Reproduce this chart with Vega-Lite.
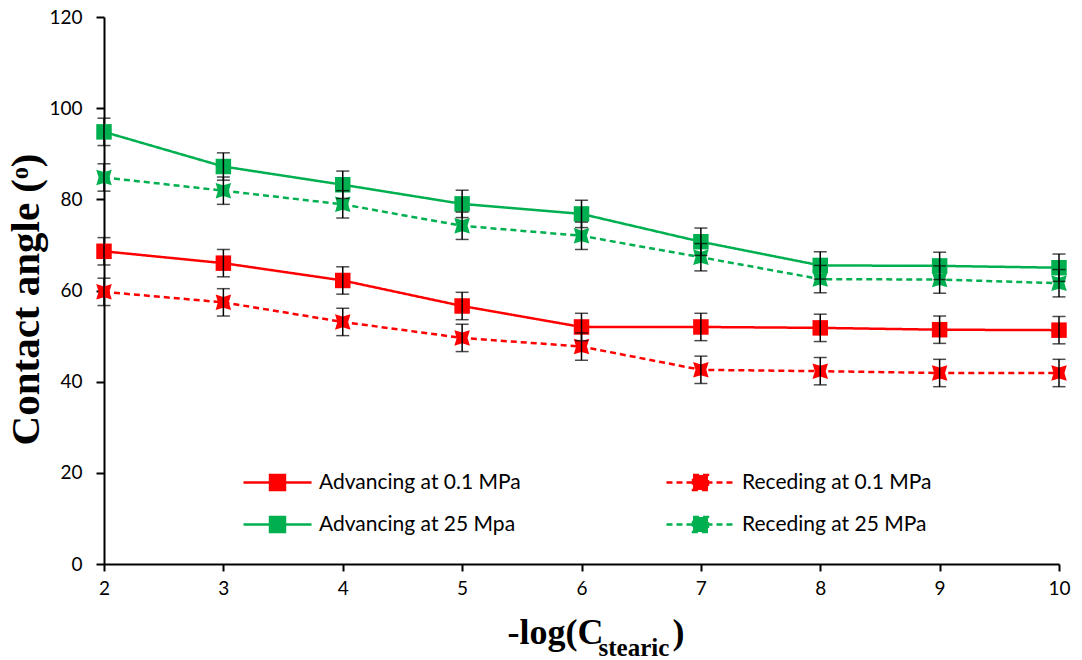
{
  "$schema": "https://vega.github.io/schema/vega-lite/v6.json",
  "autosize": {"type": "none"},
  "padding": {"left": 104, "top": 17, "right": 23, "bottom": 96},
  "width": 955,
  "height": 547,
  "background": "white",
  "config": {
    "view": {"stroke": null},
    "axis": {"grid": false}
  },
  "data": {
    "values": [
      {"x": 2, "series": "Advancing at 0.1 MPa", "angle": 68.6, "lo": 65.6, "hi": 71.6},
      {"x": 3, "series": "Advancing at 0.1 MPa", "angle": 66.0, "lo": 63.0, "hi": 69.0},
      {"x": 4, "series": "Advancing at 0.1 MPa", "angle": 62.2, "lo": 59.2, "hi": 65.2},
      {"x": 5, "series": "Advancing at 0.1 MPa", "angle": 56.6, "lo": 53.6, "hi": 59.6},
      {"x": 6, "series": "Advancing at 0.1 MPa", "angle": 52.0, "lo": 49.0, "hi": 55.0},
      {"x": 7, "series": "Advancing at 0.1 MPa", "angle": 52.0, "lo": 49.0, "hi": 55.0},
      {"x": 8, "series": "Advancing at 0.1 MPa", "angle": 51.8, "lo": 48.8, "hi": 54.8},
      {"x": 9, "series": "Advancing at 0.1 MPa", "angle": 51.4, "lo": 48.4, "hi": 54.4},
      {"x": 10, "series": "Advancing at 0.1 MPa", "angle": 51.3, "lo": 48.3, "hi": 54.3},
      {"x": 2, "series": "Receding at 0.1 MPa", "angle": 59.7, "lo": 56.7, "hi": 62.7},
      {"x": 3, "series": "Receding at 0.1 MPa", "angle": 57.4, "lo": 54.4, "hi": 60.4},
      {"x": 4, "series": "Receding at 0.1 MPa", "angle": 53.1, "lo": 50.1, "hi": 56.1},
      {"x": 5, "series": "Receding at 0.1 MPa", "angle": 49.6, "lo": 46.6, "hi": 52.6},
      {"x": 6, "series": "Receding at 0.1 MPa", "angle": 47.7, "lo": 44.7, "hi": 50.7},
      {"x": 7, "series": "Receding at 0.1 MPa", "angle": 42.6, "lo": 39.6, "hi": 45.6},
      {"x": 8, "series": "Receding at 0.1 MPa", "angle": 42.3, "lo": 39.3, "hi": 45.3},
      {"x": 9, "series": "Receding at 0.1 MPa", "angle": 41.9, "lo": 38.9, "hi": 44.9},
      {"x": 10, "series": "Receding at 0.1 MPa", "angle": 41.9, "lo": 38.9, "hi": 44.9},
      {"x": 2, "series": "Advancing at 25 Mpa", "angle": 94.8, "lo": 91.8, "hi": 97.8},
      {"x": 3, "series": "Advancing at 25 Mpa", "angle": 87.2, "lo": 84.2, "hi": 90.2},
      {"x": 4, "series": "Advancing at 25 Mpa", "angle": 83.2, "lo": 80.2, "hi": 86.2},
      {"x": 5, "series": "Advancing at 25 Mpa", "angle": 79.0, "lo": 76.0, "hi": 82.0},
      {"x": 6, "series": "Advancing at 25 Mpa", "angle": 76.8, "lo": 73.8, "hi": 79.8},
      {"x": 7, "series": "Advancing at 25 Mpa", "angle": 70.7, "lo": 67.7, "hi": 73.7},
      {"x": 8, "series": "Advancing at 25 Mpa", "angle": 65.5, "lo": 62.5, "hi": 68.5},
      {"x": 9, "series": "Advancing at 25 Mpa", "angle": 65.4, "lo": 62.4, "hi": 68.4},
      {"x": 10, "series": "Advancing at 25 Mpa", "angle": 65.0, "lo": 62.0, "hi": 68.0},
      {"x": 2, "series": "Receding at 25 MPa", "angle": 84.8, "lo": 81.8, "hi": 87.8},
      {"x": 3, "series": "Receding at 25 MPa", "angle": 81.9, "lo": 78.9, "hi": 84.9},
      {"x": 4, "series": "Receding at 25 MPa", "angle": 78.9, "lo": 75.9, "hi": 81.9},
      {"x": 5, "series": "Receding at 25 MPa", "angle": 74.2, "lo": 71.2, "hi": 77.2},
      {"x": 6, "series": "Receding at 25 MPa", "angle": 72.0, "lo": 69.0, "hi": 75.0},
      {"x": 7, "series": "Receding at 25 MPa", "angle": 67.3, "lo": 64.3, "hi": 70.3},
      {"x": 8, "series": "Receding at 25 MPa", "angle": 62.5, "lo": 59.5, "hi": 65.5},
      {"x": 9, "series": "Receding at 25 MPa", "angle": 62.4, "lo": 59.4, "hi": 65.4},
      {"x": 10, "series": "Receding at 25 MPa", "angle": 61.6, "lo": 58.6, "hi": 64.6}
    ]
  },
  "resolve": {"axis": {"x": "independent"}},
  "layer": [
    {
      "mark": {"type": "line", "strokeWidth": 2.5},
      "encoding": {
        "x": {
          "field": "x", "type": "quantitative",
          "scale": {"domain": [2, 10], "nice": false},
          "axis": {
            "orient": "bottom",
            "values": [2, 3, 4, 5, 6, 7, 8, 9, 10],
            "domainColor": "black", "domainWidth": 2,
            "tickColor": "black", "tickWidth": 2, "tickSize": 7,
            "labelFont": "Lato", "labelFontSize": 19, "labelColor": "black", "labelPadding": 8,
            "labelFlush": false,
            "title": "-log(C",
            "titleFont": "Liberation Serif", "titleFontSize": 36, "titleFontWeight": "bold", "titleColor": "black",
            "titleAlign": "left", "titleAnchor": null, "titleBaseline": "alphabetic",
            "titleX": 403, "titleY": 79
          }
        },
        "y": {
          "field": "angle", "type": "quantitative",
          "scale": {"domain": [0, 120], "nice": false},
          "axis": {
            "values": [0, 20, 40, 60, 80, 100, 120],
            "domainColor": "black", "domainWidth": 2,
            "tickColor": "black", "tickWidth": 2, "tickSize": 8,
            "labelFont": "Lato", "labelFontSize": 19, "labelColor": "black", "labelPadding": 14,
            "labelFlush": false,
            "title": "Contact angle (ᵒ)",
            "titleFont": "Liberation Serif", "titleFontSize": 41, "titleFontWeight": "bold", "titleColor": "black",
            "titleAngle": -90, "titleAlign": "center", "titleBaseline": "middle", "titleAnchor": null,
            "titleX": -78, "titleY": 282
          }
        },
        "color": {
          "field": "series", "type": "nominal",
          "scale": {
            "domain": ["Advancing at 0.1 MPa", "Receding at 0.1 MPa", "Advancing at 25 Mpa", "Receding at 25 MPa"],
            "range": ["#FF0000", "#FF0000", "#00B050", "#00B050"]
          },
          "legend": {
            "title": null, "orient": "none", "legendX": 163, "legendY": 455, "columns": 2, "direction": "horizontal",
            "symbolType": "M-3.78,0L3.78,0M-0.83,-0.83L0.83,-0.83L0.83,0.83L-0.83,0.83Z",
            "symbolSize": 324, "symbolStrokeWidth": 2.5,
            "labelFont": "Lato", "labelFontSize": 21, "labelColor": "black", "labelOffset": 31, "labelLimit": 400,
            "rowPadding": 17, "columnPadding": 140,
            "encode": {"symbols": {"update": {"fill": {"scale": "color", "field": "value"}, "stroke": {"scale": "color", "field": "value"}, "opacity": {"value": 1}}}}
          }
        },
        "strokeDash": {
          "field": "series", "type": "nominal",
          "scale": {
            "domain": ["Advancing at 0.1 MPa", "Receding at 0.1 MPa", "Advancing at 25 Mpa", "Receding at 25 MPa"],
            "range": [[1, 0], [6, 4], [1, 0], [6, 4]]
          },
          "legend": {
            "title": null, "orient": "none", "legendX": 163, "legendY": 455, "columns": 2, "direction": "horizontal",
            "symbolType": "M-3.78,0L3.78,0M-0.83,-0.83L0.83,-0.83L0.83,0.83L-0.83,0.83Z",
            "symbolSize": 324, "symbolStrokeWidth": 2.5,
            "labelFont": "Lato", "labelFontSize": 21, "labelColor": "black", "labelOffset": 31, "labelLimit": 400,
            "rowPadding": 17, "columnPadding": 140,
            "encode": {"symbols": {"update": {"fill": {"scale": "color", "field": "value"}, "stroke": {"scale": "color", "field": "value"}, "opacity": {"value": 1}}}}
          }
        }
      }
    },
    {
      "transform": [{"filter": "datum.series === 'Advancing at 0.1 MPa'"}],
      "mark": {"type": "point", "shape": "square", "filled": true, "opacity": 1, "size": 240, "color": "#FF0000"},
      "encoding": {
        "x": {
          "field": "x", "type": "quantitative",
          "axis": {
            "orient": "bottom", "domain": false, "ticks": false, "labels": false,
            "title": "stearic",
            "titleFont": "Liberation Serif", "titleFontSize": 25, "titleFontWeight": "bold", "titleColor": "black",
            "titleAlign": "left", "titleAnchor": null, "titleBaseline": "alphabetic",
            "titleX": 494, "titleY": 91
          }
        },
        "y": {
          "field": "angle", "type": "quantitative",
          "axis": {
            "values": [0, 20, 40, 60, 80, 100, 120],
            "domainColor": "black", "domainWidth": 2,
            "tickColor": "black", "tickWidth": 2, "tickSize": 8,
            "labelFont": "Lato", "labelFontSize": 19, "labelColor": "black", "labelPadding": 14,
            "labelFlush": false,
            "title": "Contact angle (ᵒ)",
            "titleFont": "Liberation Serif", "titleFontSize": 41, "titleFontWeight": "bold", "titleColor": "black",
            "titleAngle": -90, "titleAlign": "center", "titleBaseline": "middle", "titleAnchor": null,
            "titleX": -78, "titleY": 282
          }
        }
      }
    },
    {
      "transform": [{"filter": "datum.series === 'Advancing at 25 Mpa'"}],
      "mark": {"type": "point", "shape": "square", "filled": true, "opacity": 1, "size": 240, "color": "#00B050"},
      "encoding": {
        "x": {"field": "x", "type": "quantitative", "axis": null},
        "y": {
          "field": "angle", "type": "quantitative",
          "axis": {
            "values": [0, 20, 40, 60, 80, 100, 120],
            "domainColor": "black", "domainWidth": 2,
            "tickColor": "black", "tickWidth": 2, "tickSize": 8,
            "labelFont": "Lato", "labelFontSize": 19, "labelColor": "black", "labelPadding": 14,
            "labelFlush": false,
            "title": "Contact angle (ᵒ)",
            "titleFont": "Liberation Serif", "titleFontSize": 41, "titleFontWeight": "bold", "titleColor": "black",
            "titleAngle": -90, "titleAlign": "center", "titleBaseline": "middle", "titleAnchor": null,
            "titleX": -78, "titleY": 282
          }
        }
      }
    },
    {
      "transform": [{"filter": "datum.series === 'Receding at 0.1 MPa'"}],
      "mark": {"type": "point", "shape": "M-1,-1L0,-0.7L1,-1L0.7,0L1,1L0,0.7L-1,1L-0.7,0Z", "filled": true, "opacity": 1, "size": 240, "color": "#FF0000"},
      "encoding": {
        "x": {"field": "x", "type": "quantitative", "axis": null},
        "y": {
          "field": "angle", "type": "quantitative",
          "axis": {
            "values": [0, 20, 40, 60, 80, 100, 120],
            "domainColor": "black", "domainWidth": 2,
            "tickColor": "black", "tickWidth": 2, "tickSize": 8,
            "labelFont": "Lato", "labelFontSize": 19, "labelColor": "black", "labelPadding": 14,
            "labelFlush": false,
            "title": "Contact angle (ᵒ)",
            "titleFont": "Liberation Serif", "titleFontSize": 41, "titleFontWeight": "bold", "titleColor": "black",
            "titleAngle": -90, "titleAlign": "center", "titleBaseline": "middle", "titleAnchor": null,
            "titleX": -78, "titleY": 282
          }
        }
      }
    },
    {
      "transform": [{"filter": "datum.series === 'Receding at 25 MPa'"}],
      "mark": {"type": "point", "shape": "M-1,-1L0,-0.7L1,-1L0.7,0L1,1L0,0.7L-1,1L-0.7,0Z", "filled": true, "opacity": 1, "size": 240, "color": "#00B050"},
      "encoding": {
        "x": {"field": "x", "type": "quantitative", "axis": null},
        "y": {
          "field": "angle", "type": "quantitative",
          "axis": {
            "values": [0, 20, 40, 60, 80, 100, 120],
            "domainColor": "black", "domainWidth": 2,
            "tickColor": "black", "tickWidth": 2, "tickSize": 8,
            "labelFont": "Lato", "labelFontSize": 19, "labelColor": "black", "labelPadding": 14,
            "labelFlush": false,
            "title": "Contact angle (ᵒ)",
            "titleFont": "Liberation Serif", "titleFontSize": 41, "titleFontWeight": "bold", "titleColor": "black",
            "titleAngle": -90, "titleAlign": "center", "titleBaseline": "middle", "titleAnchor": null,
            "titleX": -78, "titleY": 282
          }
        }
      }
    },
    {
      "mark": {"type": "errorbar", "color": "black", "thickness": 1.5, "ticks": {"size": 13, "thickness": 1.5}},
      "encoding": {
        "x": {
          "field": "x", "type": "quantitative",
          "axis": {
            "orient": "bottom", "domain": false, "ticks": false, "labels": false,
            "title": ")",
            "titleFont": "Liberation Serif", "titleFontSize": 36, "titleFontWeight": "bold", "titleColor": "black",
            "titleAlign": "left", "titleAnchor": null, "titleBaseline": "alphabetic",
            "titleX": 568, "titleY": 79
          }
        },
        "y": {
          "field": "lo", "type": "quantitative",
          "axis": {
            "values": [0, 20, 40, 60, 80, 100, 120],
            "domainColor": "black", "domainWidth": 2,
            "tickColor": "black", "tickWidth": 2, "tickSize": 8,
            "labelFont": "Lato", "labelFontSize": 19, "labelColor": "black", "labelPadding": 14,
            "labelFlush": false,
            "title": "Contact angle (ᵒ)",
            "titleFont": "Liberation Serif", "titleFontSize": 41, "titleFontWeight": "bold", "titleColor": "black",
            "titleAngle": -90, "titleAlign": "center", "titleBaseline": "middle", "titleAnchor": null,
            "titleX": -78, "titleY": 282
          }
        },
        "y2": {"field": "hi"}
      }
    }
  ]
}
